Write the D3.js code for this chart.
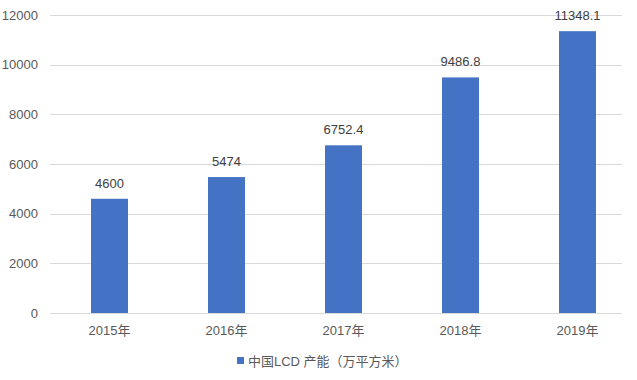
<!DOCTYPE html>
<html lang="zh">
<head>
  <meta charset="UTF-8">
  <title>中国LCD 产能</title>
  <script src="https://d3js.org/d3.v7.min.js"></script>
  <style>
    body { margin: 0; background: #fff; }
    svg { display: block; font-family: "Liberation Sans", "Noto Sans CJK SC", sans-serif; }
    .grid line { stroke: #d9d9d9; stroke-width: 1px; }
    .tick-label { fill: #595959; font-size: 13px; }
    .value-label { fill: #404040; font-size: 13px; }
  </style>
</head>
<body>
<svg id="chart"></svg>
<script>
// data
const years = ["2015年", "2016年", "2017年", "2018年", "2019年"];
const capacity = [4600, 5474, 6752.4, 9486.8, 11348.1];
const valueLabels = ["4600", "5474", "6752.4", "9486.8", "11348.1"];
const yTicks = [0, 2000, 4000, 6000, 8000, 10000, 12000];
const seriesName = "中国LCD 产能（万平方米）";

const width = 637, height = 380;
const svg = d3.select("#chart").attr("width", width).attr("height", height);

// plot area
const gridLeft = 50, gridRight = 622;
const y = d3.scaleLinear().domain([0, 12000]).range([313, 15]);
const x = d3.scaleBand().domain(years).range([51, 636]).paddingInner(0.684).paddingOuter(0.342);

// gridlines
svg.append("g").attr("class", "grid")
  .selectAll("line")
  .data(yTicks)
  .join("line")
  .attr("x1", gridLeft)
  .attr("x2", gridRight)
  .attr("y1", d => Math.round(y(d)) + 0.5)
  .attr("y2", d => Math.round(y(d)) + 0.5);

// y tick labels
svg.append("g")
  .selectAll("text")
  .data(yTicks)
  .join("text")
  .attr("class", "tick-label")
  .attr("x", 38)
  .attr("y", d => y(d))
  .attr("dy", "0.35em")
  .attr("text-anchor", "end")
  .text(d => d);

// bars
svg.append("g")
  .selectAll("rect")
  .data(capacity)
  .join("rect")
  .attr("x", (d, i) => x(years[i]))
  .attr("width", x.bandwidth())
  .attr("y", d => y(d))
  .attr("height", d => y(0) - y(d))
  .attr("fill", "#4472c4");

// value labels
svg.append("g")
  .selectAll("text")
  .data(capacity)
  .join("text")
  .attr("class", "value-label")
  .attr("x", (d, i) => x(years[i]) + x.bandwidth() / 2)
  .attr("y", d => y(d) - 11)
  .attr("text-anchor", "middle")
  .text((d, i) => valueLabels[i]);

// x labels
svg.append("g")
  .selectAll("text")
  .data(years)
  .join("text")
  .attr("class", "tick-label")
  .attr("x", d => x(d) + x.bandwidth() / 2)
  .attr("y", 335)
  .attr("text-anchor", "middle")
  .text(d => d);

// legend
const legend = svg.append("g").attr("transform", "translate(237,361)");
legend.append("rect").attr("x", 0).attr("y", -4).attr("width", 7).attr("height", 7).attr("fill", "#4472c4");
legend.append("text").attr("class", "tick-label").attr("x", 11).attr("y", 0).attr("dy", "0.35em").text(seriesName);
</script>
</body>
</html>
